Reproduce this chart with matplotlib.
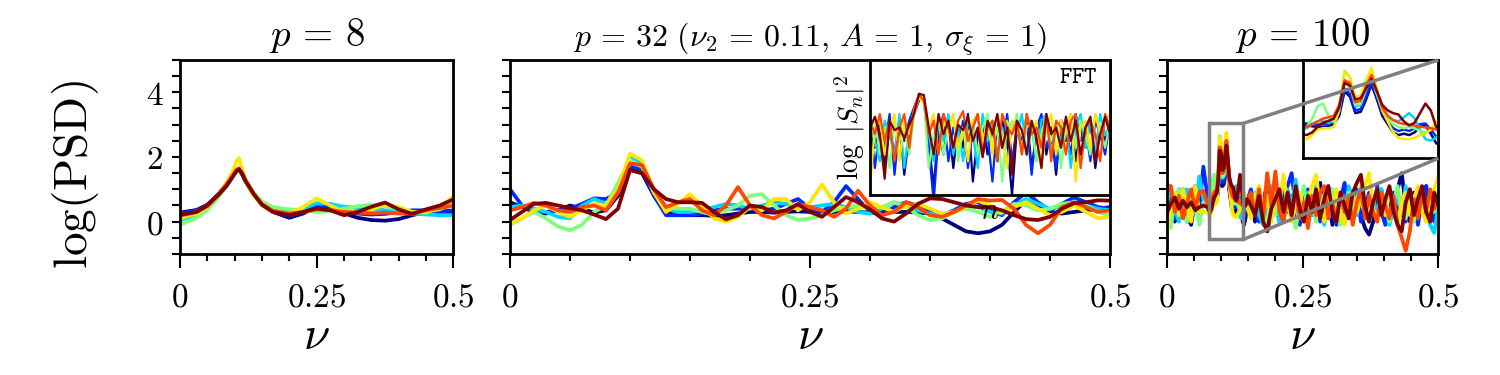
import numpy as np
import matplotlib
matplotlib.use("Agg")
import matplotlib.pyplot as plt
from matplotlib.ticker import MultipleLocator, FixedLocator, FuncFormatter
from mpl_toolkits.axes_grid1.inset_locator import mark_inset

plt.rcParams['mathtext.fontset'] = 'cm'
plt.rcParams['font.family'] = 'serif'
plt.rcParams['font.serif'] = ['DejaVu Serif']

# =========================================================
# DATA
# =========================================================
# ---- p = 8 : smooth AR spectra
NU8 = [0, 0.03, 0.05, 0.07, 0.085, 0.097, 0.103, 0.108, 0.114, 0.12, 0.128, 0.135,
       0.15, 0.17, 0.2, 0.225, 0.25, 0.275, 0.3, 0.325, 0.35, 0.375, 0.4, 0.425,
       0.45, 0.475, 0.5]
P8_NAVY   = [0.28, 0.36, 0.52, 0.85, 1.15, 1.42, 1.55, 1.6, 1.45, 1.25, 1.02, 0.85,
             0.55, 0.3, 0.12, 0.25, 0.46, 0.4, 0.26, 0.12, 0.05, 0.03, 0.08, 0.2,
             0.3, 0.3, 0.3]
P8_BLUE   = [0.25, 0.34, 0.5, 0.84, 1.15, 1.42, 1.56, 1.62, 1.46, 1.25, 1.02, 0.84,
             0.55, 0.32, 0.18, 0.3, 0.5, 0.45, 0.35, 0.25, 0.22, 0.24, 0.3, 0.35,
             0.35, 0.32, 0.35]
P8_CYAN   = [0.05, 0.2, 0.42, 0.8, 1.12, 1.42, 1.56, 1.62, 1.46, 1.25, 1.03, 0.85,
             0.58, 0.38, 0.3, 0.4, 0.57, 0.55, 0.46, 0.42, 0.41, 0.35, 0.3, 0.25,
             0.22, 0.2, 0.2]
P8_GREEN  = [-0.1, 0.12, 0.36, 0.75, 1.1, 1.4, 1.54, 1.6, 1.48, 1.3, 1.08, 0.9,
             0.62, 0.45, 0.38, 0.35, 0.3, 0.32, 0.4, 0.48, 0.52, 0.48, 0.38, 0.3,
             0.3, 0.38, 0.57]
P8_YELLOW = [0.1, 0.25, 0.45, 0.82, 1.2, 1.58, 1.85, 1.96, 1.6, 1.25, 0.98, 0.8,
             0.5, 0.3, 0.25, 0.45, 0.72, 0.5, 0.3, 0.3, 0.38, 0.52, 0.45, 0.3,
             0.28, 0.45, 0.77]
P8_ORANGE = [0.19, 0.3, 0.48, 0.84, 1.15, 1.45, 1.6, 1.65, 1.5, 1.28, 1.05, 0.85,
             0.55, 0.33, 0.25, 0.3, 0.38, 0.36, 0.3, 0.28, 0.26, 0.28, 0.25, 0.25,
             0.35, 0.42, 0.5]
P8_DARKRED = [0.21, 0.3, 0.5, 0.82, 1.1, 1.4, 1.56, 1.62, 1.47, 1.25, 1.04, 0.85,
              0.52, 0.3, 0.2, 0.3, 0.41, 0.35, 0.2, 0.3, 0.46, 0.59, 0.38, 0.24,
              0.38, 0.5, 0.69]

# ---- p = 32 : values at nu = 0, 0.01, ..., 0.5
NU32 = np.linspace(0, 0.5, 51)
P32_NAVY = [0.6, 0.45, 0.3, 0.25, 0.35, 0.5, 0.4, 0.28, 0.35, 0.8,
            1.6, 1.5, 0.8, 0.3, 0.2, 0.2, 0.2, 0.18, 0.2, 0.25,
            0.3, 0.3, 0.28, 0.3, 0.32, 0.3, 0.28, 0.3, 0.32, 0.3,
            0.28, 0.3, 0.3, 0.3, 0.28, 0.25, 0.1, -0.1, -0.3, -0.36,
            -0.3, -0.1, 0.3, 0.65, 0.5, 0.3, 0.25, 0.3, 0.35, 0.4,
            0.45]
P32_BLUE = [1.0, 0.5, 0.3, 0.3, 0.35, 0.4, 0.55, 0.72, 0.7, 0.9,
            1.7, 1.6, 0.8, 0.2, 0.2, 0.2, 0.25, 0.35, 0.4, 0.4,
            0.4, 0.35, 0.4, 0.55, 0.7, 0.4, 0.3, 0.6, 1.1, 0.7,
            0.3, 0.2, 0.45, 0.6, 0.5, 0.3, 0.2, 0.35, 0.55, 0.6,
            0.35, 0.2, 0.6, 0.9, 0.6, 0.35, 0.55, 0.75, 0.6, 0.45,
            0.4]
P32_CYAN = [0.45, 0.5, 0.4, 0.3, 0.15, 0.1, 0.5, 0.7, 0.55, 0.9,
            2.0, 1.8, 0.9, 0.4, 0.3, 0.3, 0.35, 0.45, 0.55, 0.5,
            0.4, 0.5, 0.6, 0.55, 0.45, 0.45, 0.5, 0.55, 0.45, 0.3,
            0.25, 0.4, 0.6, 0.5, 0.35, 0.25, 0.2, 0.3, 0.5, 0.45,
            0.3, 0.25, 0.5, 0.7, 0.55, 0.4, 0.5, 0.6, 0.5, 0.4,
            0.35]
P32_GREEN = [-0.1, 0.1, 0.3, 0.1, -0.15, -0.27, -0.1, 0.3, 0.5, 1.2,
             1.9, 1.7, 0.9, 0.45, 0.4, 0.4, 0.3, 0.2, 0.35, 0.5,
             0.8, 0.85, 0.5, 0.2, 0.05, 0.1, 0.2, 0.35, 0.45, 0.5,
             0.4, 0.45, 0.6, 0.45, 0.2, 0.05, 0.1, 0.3, 0.4, 0.3,
             0.15, 0.3, 0.55, 0.5, 0.35, 0.4, 0.55, 0.6, 0.5, 0.3,
             0.2]
P32_YELLOW = [-0.05, 0.1, 0.35, 0.5, 0.3, 0.15, 0.35, 0.55, 0.5, 1.0,
              2.1, 1.9, 0.9, 0.3, 0.55, 0.85, 0.5, 0.1, 0.0, 0.15,
              0.45, 0.35, 0.7, 0.7, 0.35, 0.6, 1.15, 0.6, 0.25, 0.4,
              0.6, 0.45, 0.3, 0.5, 0.55, 0.4, 0.25, 0.3, 0.45, 0.65,
              0.5, 0.3, 0.45, 0.6, 0.4, 0.2, 0.3, 0.5, 0.3, 0.1,
              0.15]
P32_ORANGE = [0.35, 0.45, 0.58, 0.5, 0.35, 0.3, 0.45, 0.5, 0.35, 0.9,
              1.8, 1.75, 1.0, 0.45, 0.6, 0.7, 0.35, 0.2, 0.5, 1.07,
              0.5, 0.2, 0.1, 0.3, 0.55, 0.45, 0.35, 0.15, 0.4, 0.96,
              0.5, 0.2, 0.3, 0.6, 0.45, 0.2, 0.15, 0.3, 0.5, 0.7,
              0.65, 0.67, 0.4, -0.1, -0.36, -0.1, 0.45, 0.6, 0.45, 0.3,
              0.35]
P32_DARKRED = [0.05, 0.3, 0.55, 0.58, 0.5, 0.42, 0.35, 0.22, 0.08, 0.4,
               1.6, 1.5, 1.0, 0.7, 0.6, 0.6, 0.58, 0.3, 0.07, 0.2,
               0.5, 0.45, 0.28, 0.35, 0.54, 0.3, 0.15, 0.45, 0.76, 0.6,
               0.38, 0.1, 0.0, 0.25, 0.55, 0.72, 0.7, 0.6, 0.5, 0.45,
               0.45, 0.35, 0.2, 0.08, 0.05, 0.15, 0.4, 0.57, 0.6, 0.66,
               0.65]

# ---- p = 32 inset : FFT, log|S_n|^2 (relative units, index n)
FFT_N = np.arange(50)
FFT_NAVY = [0.45, 0.35, 0.55, 0.2, 0.5, 0.3, 0.55, 0.15, 0.45, 0.6,
            0.7, 0.72, 0.4, 0.05, 0.5, 0.3, 0.55, 0.2, 0.5, 0.35,
            0.6, 0.1, 0.45, 0.55, 0.3, 0.5, 0.25, 0.55, 0.4, 0.0,
            0.5, 0.35, 0.6, 0.2, 0.45, 0.55, 0.3, 0.5, 0.15, 0.55,
            0.4, 0.6, 0.25, 0.5, 0.35, 0.55, 0.2, 0.5, 0.4, 0.55]
FFT_BLUE = [0.55, 0.2, 0.5, 0.35, 0.6, 0.15, 0.5, 0.4, 0.55, 0.65,
            0.73, 0.7, 0.35, -0.05, 0.45, 0.6, 0.25, 0.5, 0.35, 0.55,
            0.2, 0.5, 0.6, 0.3, 0.45, 0.1, 0.55, 0.35, 0.6, 0.25,
            0.5, 0.4, 0.55, 0.15, 0.5, 0.6, 0.35, 0.45, 0.2, 0.55,
            0.5, 0.3, 0.6, 0.4, 0.5, 0.25, 0.55, 0.45, 0.3, 0.55]
FFT_CYAN = [0.5, 0.4, 0.25, 0.55, 0.45, 0.3, 0.6, 0.2, 0.5, 0.62,
            0.75, 0.7, 0.45, 0.25, 0.55, 0.4, 0.6, 0.3, 0.5, 0.25,
            0.55, 0.45, 0.2, 0.6, 0.4, 0.55, 0.3, 0.5, 0.2, 0.55,
            0.45, 0.6, 0.3, 0.5, 0.25, 0.55, 0.6, 0.3, 0.5, 0.4,
            0.55, 0.2, 0.5, 0.6, 0.35, 0.55, 0.3, 0.6, 0.45, 0.5]
FFT_GREEN = [0.5, 0.55, 0.3, 0.5, 0.2, 0.55, 0.4, 0.5, 0.3, 0.6,
             0.74, 0.72, 0.2, 0.45, 0.55, 0.3, 0.5, 0.6, 0.25, 0.5,
             0.45, 0.55, 0.3, 0.5, 0.6, 0.35, 0.5, 0.1, 0.55, 0.45,
             0.6, 0.3, 0.5, 0.55, 0.25, 0.45, 0.6, 0.4, 0.55, 0.2,
             0.5, 0.6, 0.35, 0.55, 0.45, 0.3, 0.6, 0.5, 0.35, 0.55]
FFT_YELLOW = [0.05, 0.5, 0.55, 0.3, 0.5, 0.6, 0.25, 0.55, 0.45, 0.6,
              0.72, 0.68, 0.5, 0.6, 0.3, 0.55, 0.45, 0.6, 0.35, 0.5,
              0.25, 0.55, 0.6, 0.4, 0.55, 0.3, 0.6, 0.45, 0.2, 0.55,
              0.5, 0.35, 0.6, 0.45, 0.55, 0.2, 0.5, 0.6, 0.3, 0.55,
              0.45, 0.6, 0.1, 0.5, 0.55, 0.35, 0.6, 0.45, 0.55, 0.6]
FFT_ORANGE = [0.55, 0.45, 0.6, 0.4, 0.55, 0.25, 0.5, 0.6, 0.35, 0.65,
              0.74, 0.7, 0.45, 0.55, 0.3, 0.6, 0.5, 0.35, 0.55, 0.62,
              0.4, 0.5, 0.6, 0.3, 0.5, 0.55, 0.25, 0.6, 0.5, 0.45,
              0.55, 0.3, 0.6, 0.45, 0.5, 0.35, 0.6, 0.25, 0.55, 0.5,
              0.3, 0.55, 0.6, 0.2, 0.5, 0.55, 0.45, 0.25, 0.6, 0.5]
FFT_DARKRED = [0.5, 0.58, 0.45, 0.12, 0.55, 0.48, 0.5, 0.42, 0.52, 0.6,
               0.75, 0.74, 0.5, 0.3, 0.6, 0.45, 0.55, 0.35, 0.52, 0.48,
               0.58, 0.4, 0.5, 0.28, 0.55, 0.45, 0.6, 0.35, 0.5, 0.15,
               0.55, 0.48, 0.3, 0.55, 0.42, 0.2, 0.6, 0.45, 0.5, 0.35,
               0.58, 0.4, 0.55, 0.3, 0.5, 0.58, 0.25, 0.45, 0.58, 0.45]

# ---- p = 100 : grid is finer inside the zoomed window
NU100 = np.concatenate([np.arange(10) * 0.0075,
                        0.075 + np.arange(30) * 0.0025,
                        0.155 + np.arange(47) * 0.0075])
P100_NAVY = [1.1, 0.5, 0.0, 0.6, 1.0, 0.2, -0.1, 0.7, 0.1, 0.6,
             0.7, 0.67, 0.65, 0.62, 0.6, 0.6, 0.62, 0.7, 1.0, 1.9,
             1.7, 1.1, 1.15, 1.6, 2.15, 1.6, 1.0, 0.7, 0.4, 0.3,
             0.35, 0.3, 0.4, 0.6, 0.65, 0.35, 0.0, -0.1, 0.1, 0.5,
             0.8, 0.0, 1.0, 0.2, -0.3, 0.3, 0.9, 0.1, 1.1, 0.3,
             0.8, -0.1, 0.6, 1.0, 0.1, 0.7, 0.2, 1.2, 0.0, 0.6,
             -0.1, 0.4, 0.9, 0.3, 0.8, 0.1, 0.7, 0.2, -0.2, -0.4,
             0.0, 0.6, 1.0, 0.2, 0.8, 0.3, 1.0, 1.5, 0.5, 0.0,
             0.9, 0.2, 0.6, 1.1, 0.1, 0.6, 0.2]
P100_BLUE = [1.2, 0.9, 0.1, 1.0, 0.3, 0.0, 0.8, 1.1, 0.4, 1.7,
             0.8, 0.75, 0.72, 0.7, 0.68, 0.7, 0.72, 0.78, 1.1, 2.0,
             1.8, 1.2, 1.25, 1.7, 2.25, 1.7, 1.1, 0.8, 0.55, 0.45,
             0.5, 0.45, 0.55, 0.7, 0.72, 0.5, 0.25, 0.15, 0.3, 0.6,
             1.0, 0.3, 0.0, 0.7, 1.1, 0.2, 0.6, 0.0, 0.9, 1.1,
             1.5, 0.4, -0.1, 0.5, 1.0, 0.2, 0.8, 0.0, 0.6, 1.1,
             0.3, -0.1, 0.7, 1.2, 0.2, 0.6, 1.0, 0.0, 0.4, 0.9,
             0.2, 1.1, 0.3, -0.1, 0.6, 0.9, 0.2, 0.7, 0.0, 1.0,
             0.5, -0.1, 0.7, 1.1, 0.3, 0.0, 0.7]
P100_CYAN = [0.5, 1.1, 0.4, 0.0, 0.9, 1.0, 0.2, 0.3, 1.4, 0.7,
             0.5, 0.48, 0.55, 0.7, 0.8, 0.8, 0.75, 0.8, 1.2, 2.3,
             2.1, 1.35, 1.4, 2.0, 2.4, 1.8, 1.3, 1.0, 0.85, 0.8,
             0.95, 1.1, 0.9, 0.5, 0.15, 0.1, 0.2, 0.4, 0.6, 0.7,
             0.3, 0.9, 0.2, -0.1, 0.6, 1.1, 0.7, 0.0, 0.4, 1.0,
             0.5, 1.3, 0.3, 0.0, 0.9, 0.2, 1.1, 0.5, -0.1, 0.7,
             1.0, 0.2, 0.6, 0.0, 1.1, 0.7, 0.2, 0.9, 0.3, 0.0,
             0.7, 0.2, 1.0, 0.5, -0.1, 0.4, 0.9, 0.2, 1.1, 0.5,
             0.0, 0.7, 1.0, 0.3, -0.1, -0.35, 0.5]
P100_GREEN = [0.3, -0.2, 0.7, 1.0, 0.2, 0.0, 0.8, 0.5, -0.1, 0.6,
              0.45, 0.48, 0.6, 0.9, 1.35, 1.45, 1.0, 0.8, 1.3, 2.65,
              2.4, 1.4, 1.45, 2.1, 2.5, 1.8, 1.2, 0.9, 0.7, 0.6,
              0.55, 0.6, 0.55, 0.45, 0.4, 0.5, 0.6, 0.55, 0.5, 0.5,
              0.2, 0.8, 1.1, 0.3, -0.1, 0.6, 0.2, 1.0, 0.0, 0.7,
              0.3, -0.2, 0.6, 1.1, 0.2, 0.8, 0.0, 0.9, 0.5, 0.1,
              1.0, 0.3, -0.1, 0.6, 0.9, 0.2, 0.7, 1.1, 0.3, 0.0,
              0.6, 1.0, 0.2, 0.8, 0.0, 0.6, 1.1, 0.3, 0.1, 0.9,
              0.0, 0.6, 1.0, 0.2, 0.8, 0.3, 0.9]
P100_YELLOW = [-0.4, 0.5, 0.9, 0.2, 1.0, 0.4, 0.0, 1.1, 0.3, 0.3,
               0.3, 0.2, 0.15, 0.3, 0.5, 0.55, 0.55, 0.6, 1.2, 2.6,
               2.4, 1.7, 1.75, 2.3, 2.75, 2.0, 1.2, 0.8, 0.4, 0.2,
               0.15, 0.15, 0.2, 0.3, 0.35, 0.5, 0.8, 0.9, 0.7, 0.5,
               0.1, 0.6, 1.1, 0.2, 0.8, 0.0, 1.0, 0.4, 1.45, 0.5,
               0.0, 0.5, 0.9, 0.2, 0.6, 1.1, 1.45, 0.4, 0.0, 0.8,
               0.3, 1.0, 0.2, -0.1, 0.6, 0.9, 0.3, 0.7, 1.1, 1.5,
               0.4, 0.0, 0.8, 0.2, 1.0, 0.3, -0.1, 0.6, 0.9, 0.2,
               0.7, 1.1, 0.3, 0.0, 0.8, 1.0, 1.4]
P100_ORANGE = [0.9, 1.1, 0.3, 0.8, 0.1, 0.6, 1.0, 0.4, 0.9, 0.95,
               0.55, 0.55, 0.6, 0.7, 0.8, 0.9, 0.95, 1.0, 1.4, 2.3,
               2.2, 1.5, 1.55, 2.1, 2.5, 1.9, 1.3, 1.0, 0.85, 0.75,
               0.7, 0.68, 0.65, 0.6, 0.58, 0.55, 0.5, 0.45, 0.5, 0.6,
               0.9, 0.2, 1.0, 0.1, 1.5, 0.5, 1.55, 0.3, 0.0, 0.8,
               0.2, 1.0, 0.1, 0.6, -0.2, 0.8, 0.2, 0.9, 1.1, 0.1,
               0.6, 0.0, 0.9, 0.3, 0.8, -0.1, 0.6, 1.0, 0.1, 0.8,
               0.3, 0.0, 0.9, 0.5, 0.1, 0.8, -0.1, -0.5, -0.9, -0.3,
               0.7, 0.1, 0.9, 0.3, 1.0, 0.4, 0.8]
P100_DARKRED = [0.25, 0.55, 0.75, 0.4, 0.65, 0.45, 0.6, 0.35, 0.45, 0.5,
                0.45, 0.35, 0.3, 0.4, 0.6, 0.75, 0.82, 0.9, 1.3, 2.2,
                2.1, 1.6, 1.65, 2.0, 2.35, 1.9, 1.4, 1.2, 1.1, 1.05,
                0.8, 0.65, 0.75, 1.1, 1.45, 1.2, 0.6, 0.45, 0.5, 0.7,
                0.5, 0.2, 0.8, 0.0, -0.3, 0.4, 0.7, 1.0, 0.3, 0.9,
                0.2, 1.1, 0.4, 0.0, 0.8, 0.3, 1.0, 0.1, 0.7, 1.1,
                0.3, 0.0, 0.9, 0.5, 0.1, 0.9, 1.2, 1.45, 0.5, 0.0,
                0.6, 1.0, 0.2, 0.7, 1.1, 0.3, -0.1, -0.3, 0.6, 1.0,
                0.2, 0.7, 1.1, 0.3, 0.0, 0.9, 0.5]

ZOOM_X = (0.078, 0.141)
ZOOM_Y = (-0.55, 3.04)

COLORS = plt.cm.jet(np.linspace(0, 1, 7))

SERIES8 = [P8_NAVY, P8_BLUE, P8_CYAN, P8_GREEN, P8_YELLOW, P8_ORANGE, P8_DARKRED]
SERIES32 = [P32_NAVY, P32_BLUE, P32_CYAN, P32_GREEN, P32_YELLOW, P32_ORANGE, P32_DARKRED]
SERIES_FFT = [FFT_NAVY, FFT_BLUE, FFT_CYAN, FFT_GREEN, FFT_YELLOW, FFT_ORANGE, FFT_DARKRED]
SERIES100 = [P100_NAVY, P100_BLUE, P100_CYAN, P100_GREEN, P100_YELLOW, P100_ORANGE, P100_DARKRED]

TICK_FS = 24
LW = 2.7


def fmt_num(v, pos):
    return r'$%g$' % v


def style_axis(ax):
    ax.set_xlim(0, 0.5)
    ax.set_ylim(-1, 5)
    for sp in ax.spines.values():
        sp.set_linewidth(2)
    ax.xaxis.set_major_locator(FixedLocator([0, 0.25, 0.5]))
    ax.xaxis.set_minor_locator(MultipleLocator(0.05))
    ax.yaxis.set_major_locator(FixedLocator([0, 2, 4]))
    ax.yaxis.set_minor_locator(MultipleLocator(0.5))
    ax.xaxis.set_major_formatter(FuncFormatter(fmt_num))
    ax.yaxis.set_major_formatter(FuncFormatter(fmt_num))
    ax.tick_params(which='both', direction='out', top=False, right=False,
                   width=1.5, labelsize=TICK_FS)
    ax.tick_params(axis='x', which='major', length=10, pad=10)
    ax.tick_params(axis='x', which='minor', length=5)
    ax.tick_params(axis='y', which='both', length=6, pad=6)
    ax.set_xlabel(r'$\nu$', fontsize=34, labelpad=0)


fig = plt.figure(figsize=(15, 3.75), dpi=100)
ax1 = fig.add_axes([0.12, 0.3227, 0.1822, 0.5173])
ax2 = fig.add_axes([0.34, 0.3227, 0.4, 0.5173])
ax3 = fig.add_axes([0.7778, 0.3227, 0.1811, 0.5173])

# ---- p = 8
for ys, c in zip(SERIES8, COLORS):
    ax1.plot(NU8, ys, color=c, lw=LW)
style_axis(ax1)
ax1.set_title(r'$p\,=\,8$', fontsize=28, pad=10)
ax1.set_ylabel(r'$\log(\mathrm{PSD})$', fontsize=34)
ax1.yaxis.set_label_coords(-0.29, 0.41)

# ---- p = 32
for ys, c in zip(SERIES32, COLORS):
    ax2.plot(NU32, ys, color=c, lw=LW)
style_axis(ax2)
ax2.set_yticklabels([])
ax2.set_title(r'$p\,=\,32\ (\nu_2\,=\,0.11,\, A\,=\,1,\, \sigma_\xi\,=\,1)$',
              fontsize=23, pad=10)

ins2 = ax2.inset_axes([0.6, 0.304, 0.4, 0.696])
for ys, c in zip(SERIES_FFT, COLORS):
    ins2.plot(FFT_N, ys, color=c, lw=1.6)
ins2.set_xlim(0, 49)
ins2.set_ylim(0, 1)
ins2.set_xticks([])
ins2.set_yticks([])
for sp in ins2.spines.values():
    sp.set_linewidth(2)
ins2.set_xlabel(r'$n$', fontsize=22, labelpad=0)
ins2.set_ylabel(r'$\log\ |S_n|^2$', fontsize=20, labelpad=2)
ins2.text(0.95, 0.88, r'$\mathtt{FFT}$', transform=ins2.transAxes,
          ha='right', va='center', fontsize=17)

# ---- p = 100
for ys, c in zip(SERIES100, COLORS):
    ax3.plot(NU100, ys, color=c, lw=LW)
style_axis(ax3)
ax3.set_yticklabels([])
ax3.set_title(r'$p\,=\,100$', fontsize=28, pad=10)

ins3 = ax3.inset_axes([0.5, 0.493, 0.5, 0.507])
for ys, c in zip(SERIES100, COLORS):
    ins3.plot(NU100, ys, color=c, lw=1.8)
ins3.set_xlim(*ZOOM_X)
ins3.set_ylim(*ZOOM_Y)
ins3.set_xticks([])
ins3.set_yticks([])
for sp in ins3.spines.values():
    sp.set_linewidth(2)
mark_inset(ax3, ins3, loc1=1, loc2=4, fc='none', ec='0.5', lw=2.5, zorder=3)

fig.savefig('out.png', dpi=100)
